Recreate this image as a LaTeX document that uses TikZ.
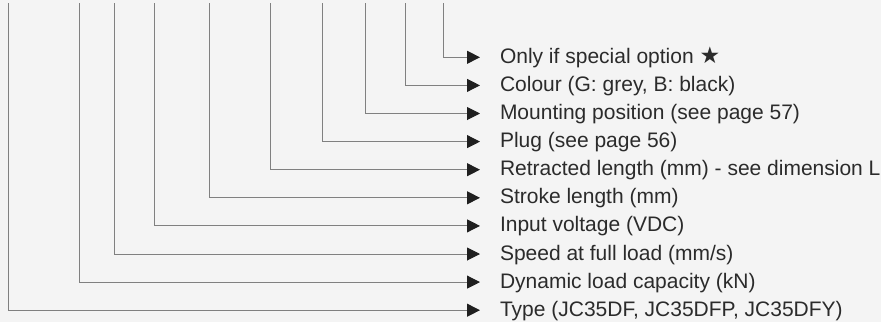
\documentclass[tikz,border=0pt]{standalone}
\usepackage{fontspec}
\setmainfont{Liberation Sans}
\newfontfamily\symfont{DejaVu Sans}
\usetikzlibrary{arrows.meta}
\definecolor{bgc}{HTML}{F4F4F4}
\definecolor{linec}{HTML}{808080}
\definecolor{txtc}{HTML}{2B2B2B}
\begin{document}
\begin{tikzpicture}[x=1pt,y=-1pt,
  lbl/.style={anchor=west,inner xsep=0pt,inner ysep=0pt,outer xsep=20pt,outer ysep=0pt,
    text height=16pt,text depth=4pt,font=\fontsize{21}{25}\selectfont,text=txtc},
  lead/.style={draw=linec,line width=1pt,-{Triangle[length=13pt,width=13pt,color=black!88]}}]
\useasboundingbox[fill=bgc] (0,0) rectangle (881,322);
\foreach \i/\x/\t in {
 0/443/{Only if special option {\symfont\fontsize{23}{25}\selectfont ★}},
 1/405.3/{Colour (G: grey, B: black)},
 2/365.7/{Mounting position (see page 57)},
 3/322.7/{Plug (see page 56)},
 4/270/{Retracted length (mm) - see dimension L},
 5/209.5/{Stroke length (mm)},
 6/154.5/{Input voltage (VDC)},
 7/114.7/{Speed at full load (mm/s)},
 8/79.5/{Dynamic load capacity (kN)},
 9/8.5/{Type (JC35DF, JC35DFP, JC35DFY)}}{
  \coordinate (s\i) at (\x,3);
  \node[lbl] (l\i) at (480,{57.3+28.1*\i}) {\t};
  \draw[lead] (s\i) |- (l\i.west);
}
\end{tikzpicture}
\end{document}
